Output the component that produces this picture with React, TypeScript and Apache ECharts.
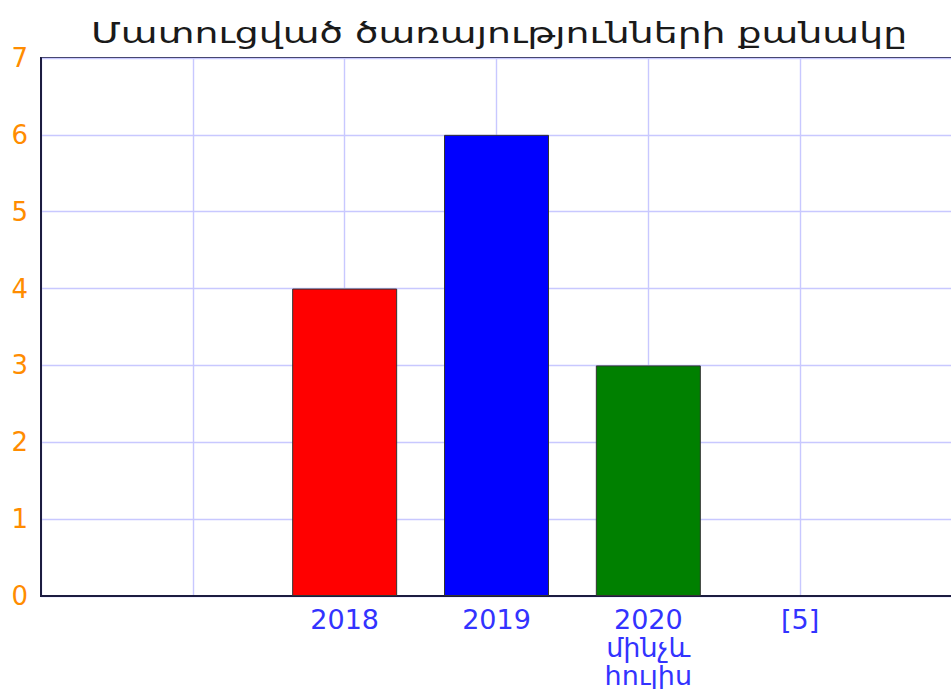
import React, { useEffect, useRef } from "react";
import * as echarts from "echarts";

const titleText = "Մատուցված ծառայությունների քանակը";
const categories = ["", "", "2018", "2019", "2020\nմինչև\nհուլիս", "[5]", ""];
const values: (number | null)[] = [null, null, 4, 6, 3, null, null];
const barColors = ["#ff0000", "#ff0000", "#ff0000", "#0000ff", "#008000", "#008000", "#008000"];
const yTicks = { min: 0, max: 7, interval: 1 };

export default function App() {
  const ref = useRef<HTMLDivElement>(null);
  useEffect(() => {
    if (!ref.current) return;
    const chart = echarts.init(ref.current, null, { renderer: "svg" });
    chart.setOption({
      animation: false,
      backgroundColor: "#ffffff",
      textStyle: { fontFamily: "DejaVu Sans" },
      graphic: [
        {
          type: "text",
          x: 499,
          y: 33,
          scaleX: 1.35,
          originX: 0,
          originY: 0,
          style: {
            text: titleText,
            fontFamily: "DejaVu Sans",
            fontSize: 28,
            fill: "#1a1a1a",
            align: "center",
            verticalAlign: "middle",
          },
        },
      ],
      grid: {
        left: 41,
        top: 58,
        right: 0,
        bottom: 93,
        show: true,
        borderColor: "#1c1c40",
        borderWidth: 2,
        backgroundColor: "transparent",
      },
      xAxis: {
        type: "category",
        data: categories,
        boundaryGap: false,
        axisLine: { show: true, lineStyle: { color: "#1c1c40", width: 2 } },
        axisTick: { show: false },
        axisLabel: {
          interval: 0,
          color: "#3333ff",
          fontSize: 27,
          lineHeight: 28,
          margin: 9,
          fontFamily: "DejaVu Sans",
        },
        splitLine: { show: true, interval: 0, lineStyle: { color: "#c8c8ff", width: 1.4 } },
      },
      yAxis: {
        type: "value",
        min: yTicks.min,
        max: yTicks.max,
        interval: yTicks.interval,
        axisLine: { show: true, lineStyle: { color: "#1c1c40", width: 2 } },
        axisTick: { show: false },
        axisLabel: { color: "#ff8c00", fontSize: 26, margin: 13, fontFamily: "DejaVu Sans" },
        splitLine: { show: true, lineStyle: { color: "#c8c8ff", width: 1.4 } },
      },
      series: [
        {
          type: "bar",
          barWidth: 105,
          data: values.map((v, i) => ({
            value: v,
            itemStyle: { color: barColors[i], borderColor: "#333333", borderWidth: 1 },
          })),
        },
      ],
    });
    return () => chart.dispose();
  }, []);
  return (
    <div
      ref={ref}
      style={{ position: "fixed", left: 0, top: 0, width: 955, height: 689, background: "#fff" }}
    />
  );
}
